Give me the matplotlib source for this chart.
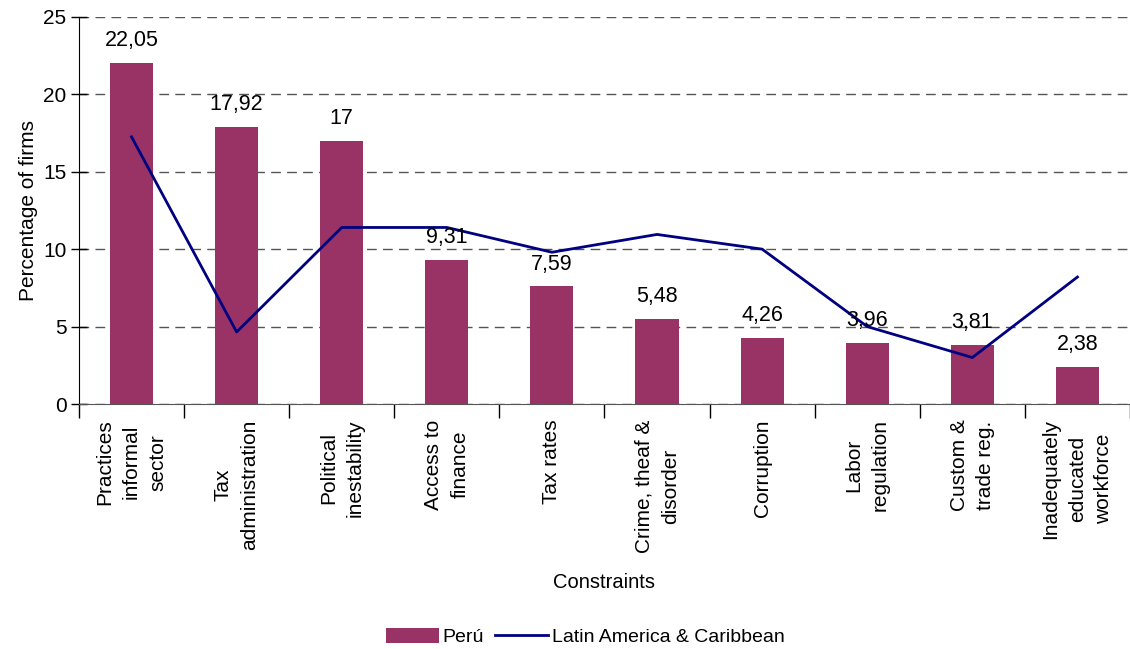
import matplotlib.pyplot as plt
import numpy as np

plt.rcParams['font.family'] = ['Liberation Sans', 'DejaVu Sans']

categories = ["Practices\ninformal\nsector", "Tax\nadministration", "Political\ninestability",
              "Access to\nfinance", "Tax rates", "Crime, theaf &\ndisorder", "Corruption",
              "Labor\nregulation", "Custom &\ntrade reg.", "Inadequately\neducated\nworkforce"]
peru = [22.05, 17.92, 17.0, 9.31, 7.59, 5.48, 4.26, 3.96, 3.81, 2.38]
peru_labels = ["22,05", "17,92", "17", "9,31", "7,59", "5,48", "4,26", "3,96", "3,81", "2,38"]
lac = [17.25, 4.65, 11.4, 11.4, 9.8, 10.95, 10.0, 5.0, 3.0, 8.2]

fig = plt.figure(figsize=(11.3, 6.49), dpi=100)
ax = fig.add_axes([0.0699, 0.3775, 0.9301, 0.5965])

x = np.arange(len(categories))
bars = ax.bar(x, peru, width=0.41, color='#993366', label='Perú', zorder=2)
line, = ax.plot(x, lac, color='#000080', linewidth=2, label='Latin America & Caribbean', zorder=3)

for xi, v, lab in zip(x, peru, peru_labels):
    ax.annotate(lab, xy=(xi, v), xytext=(0, 16), textcoords='offset points',
                ha='center', va='center', fontsize=15.5)

ax.set_xlim(-0.5, len(categories) - 0.5)
ax.set_ylim(0, 25)
ax.set_yticks(range(0, 26, 5))
ax.tick_params(axis='y', labelsize=15, direction='inout', length=12, width=1, pad=3)
ax.yaxis.grid(True, linestyle=(0, (7, 4.5)), color='#555555', linewidth=1, zorder=0)
ax.set_axisbelow(True)

ax.set_xticks(np.arange(-0.5, len(categories), 1))
ax.set_xticklabels([])
ax.set_xticks(x, minor=True)
ax.set_xticklabels(categories, minor=True, rotation=90, fontsize=15, ha='center',
                   va='top', multialignment='center', linespacing=1.5)
ax.tick_params(axis='x', which='major', direction='out', length=10, width=1)
ax.tick_params(axis='x', which='minor', length=0, pad=11)

for s in ['top', 'right']:
    ax.spines[s].set_visible(False)
ax.spines['left'].set_color('black')
ax.spines['bottom'].set_color('#555555')

ax.set_ylabel("Percentage of firms", fontsize=15, labelpad=4)
ax.set_xlabel("Constraints", fontsize=14.5, labelpad=15)

fig.legend([bars, line], ['Perú', 'Latin America & Caribbean'], loc='center',
           bbox_to_anchor=(0.518, 0.0185), ncol=2, frameon=False,
           fontsize=14, handlelength=2.7, handleheight=0.8, columnspacing=0.6,
           handletextpad=0.2, borderpad=0)

fig.savefig("out.png", dpi=100)
